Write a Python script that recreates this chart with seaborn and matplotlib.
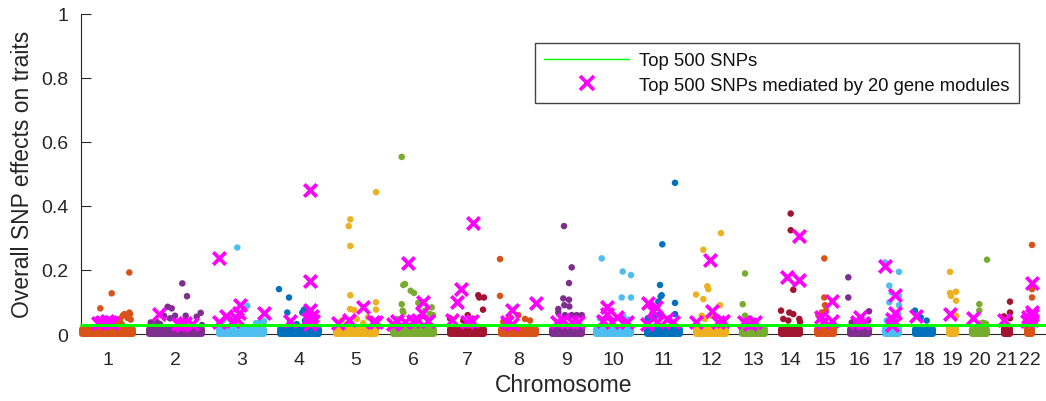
import matplotlib
matplotlib.use("Agg")
import matplotlib.pyplot as plt
import seaborn as sns
import pandas as pd
from matplotlib.lines import Line2D

# ---------------- data ----------------
chromosomes = [str(i) for i in range(1, 23)]
# genome index range of each chromosome (arbitrary SNP-index units)
chrom_start = [1, 68, 138, 199, 255, 312, 369, 420, 471, 515, 566, 615, 661, 700, 736, 769, 804, 834, 868, 891, 923, 946]
chrom_end = [52, 121, 183, 238, 295, 353, 403, 455, 501, 550, 599, 645, 684, 719, 753, 788, 818, 852, 875, 906, 929, 951]
# upper level of the dense bulk of SNP effects in each chromosome
band_top = [0.016, 0.016, 0.016, 0.016, 0.016, 0.016, 0.016, 0.016, 0.016, 0.016, 0.016,
            0.016, 0.015, 0.016, 0.016, 0.016, 0.018, 0.016, 0.020, 0.016, 0.020, 0.018]
threshold = 0.028  # effect of the top-500 SNP cutoff

# individual SNPs above the bulk
dot_chrom = (["1"] * 14 + ["2"] * 14 + ["3"] * 7 + ["4"] * 8 + ["5"] * 13 + ["6"] * 14 + ["7"] * 8 +
             ["8"] * 7 + ["9"] * 13 + ["10"] * 8 + ["11"] * 12 + ["12"] * 10 + ["13"] * 4 + ["14"] * 10 +
             ["15"] * 6 + ["16"] * 5 + ["17"] * 10 + ["18"] * 3 + ["19"] * 6 + ["20"] * 6 + ["21"] * 4 + ["22"] * 3)
dot_pos = [48.3, 30.7, 19.3, 15.7, 34, 36.3, 39, 41.7, 43.3, 48.3, 49, 46.7, 49.7, 40.7,
           101.3, 106, 86.7, 90.7, 83, 94, 104.7, 119.7, 115.7, 69.7, 79, 89, 75.7, 121,
           156.3, 166.3, 142.3, 149, 179, 183, 175,
           198, 208, 206.3, 221.3, 223, 224, 209, 215.7,
           269.3, 267.7, 269.3, 295, 269.3, 269, 273, 295, 295, 287, 275.7, 282.3, 260.7,
           320.7, 322.3, 324, 329.7, 333, 320.7, 321.7, 322.3, 337.3, 350.7, 349, 344, 352, 315.7,
           397.3, 398.3, 403, 402, 386.7, 382.3, 392.3, 369,
           419, 419, 428, 437.3, 444, 449, 422.3,
           483, 490.7, 488, 482.3, 488, 483.3, 488.3, 477.3, 477.3, 490.7, 495.7, 500.7, 484,
           520.7, 541.7, 550, 540.7, 550, 519, 542.3, 547.3,
           594, 581.3, 579, 580.7, 579.7, 594, 577.3, 566.7, 573.3, 594, 587.3, 579,
           640, 622.3, 626.3, 627.3, 615, 622.3, 639, 620.7, 630.7, 624,
           664, 661.7, 664, 669,
           709.7, 709.7, 712.3, 700, 708.3, 712.3, 718.3, 702.3, 707.3, 719,
           743.3, 743.3, 744, 745, 740.7, 737.3,
           767.3, 767.3, 788, 787.3, 770.7,
           818, 808.3, 810.7, 808.3, 818, 818, 817.3, 804, 812.3, 805.7,
           834, 839.7, 845.7,
           869, 869, 870, 875, 875, 875,
           906, 898.3, 898.3, 902.3, 899, 905,
           929, 929, 929, 923,
           951, 951, 951]
dot_val = [0.192, 0.127, 0.080, 0.044, 0.031, 0.038, 0.047, 0.057, 0.062, 0.067, 0.062, 0.050, 0.045, 0.031,
           0.158, 0.118, 0.085, 0.080, 0.057, 0.057, 0.057, 0.066, 0.054, 0.036, 0.031, 0.049, 0.038, 0.028,
           0.270, 0.088, 0.042, 0.047, 0.036, 0.040, 0.034,
           0.140, 0.114, 0.067, 0.067, 0.076, 0.042, 0.036, 0.031,
           0.358, 0.337, 0.275, 0.443, 0.121, 0.078, 0.075, 0.099, 0.076, 0.052, 0.047, 0.034, 0.042,
           0.553, 0.153, 0.156, 0.135, 0.128, 0.093, 0.073, 0.067, 0.097, 0.083, 0.062, 0.073, 0.059, 0.047,
           0.121, 0.114, 0.114, 0.076, 0.059, 0.042, 0.047, 0.049,
           0.234, 0.119, 0.055, 0.059, 0.047, 0.042, 0.038,
           0.337, 0.208, 0.159, 0.111, 0.107, 0.090, 0.086, 0.078, 0.067, 0.059, 0.059, 0.059, 0.059,
           0.236, 0.195, 0.184, 0.114, 0.114, 0.049, 0.057, 0.045,
           0.472, 0.280, 0.153, 0.121, 0.117, 0.097, 0.101, 0.049, 0.052, 0.062, 0.047, 0.062,
           0.315, 0.263, 0.149, 0.140, 0.123, 0.109, 0.090, 0.057, 0.057, 0.047,
           0.189, 0.093, 0.057, 0.038,
           0.376, 0.324, 0.138, 0.073, 0.067, 0.062, 0.047, 0.047, 0.042, 0.038,
           0.236, 0.114, 0.090, 0.073, 0.067, 0.059,
           0.177, 0.114, 0.071, 0.042, 0.036,
           0.194, 0.151, 0.130, 0.099, 0.119, 0.090, 0.062, 0.223, 0.047, 0.042,
           0.073, 0.052, 0.042,
           0.194, 0.128, 0.119, 0.132, 0.104, 0.057,
           0.232, 0.093, 0.073, 0.035, 0.033, 0.032,
           0.101, 0.067, 0.049, 0.055,
           0.278, 0.140, 0.114]

# top-500 SNPs mediated by the 20 gene modules
mark_pos = [20.7, 25.7, 29, 17.3, 30.7,
            77.7, 97.3, 104, 110.7, 100.7,
            138, 159.3, 158, 155.7, 144.7, 138, 183, 152.3,
            229, 229, 229, 230.7, 227.3, 232.3, 209, 229,
            282.3, 268.3, 257.3, 292, 295,
            327.3, 342.3, 340.7, 315.7, 324, 332.3, 347.3, 312.3, 337.3,
            391.7, 380, 376.3, 370.7, 390.7, 385.7,
            431.3, 455, 430.7, 425.7,
            482.3, 490.7, 497.3, 475.7,
            525.7, 525.7, 535.7, 545.7, 522.3, 530.7,
            567.3, 574.7, 572.3, 585.7, 575.7, 592.3, 566,
            629, 631.3, 615, 642.3, 637.3,
            663, 674, 669,
            718, 706.3, 718,
            750.7, 739.7, 750.7, 742.3,
            779, 775.7, 782.3,
            804, 814, 814, 810.7, 810.7,
            835,
            869,
            891.7,
            923,
            950.7, 950.7, 951, 947.3, 946, 951]
mark_val = [0.036, 0.042, 0.038, 0.034, 0.034,
            0.062, 0.031, 0.033, 0.031, 0.028,
            0.236, 0.090, 0.065, 0.047, 0.057, 0.038, 0.065, 0.042,
            0.450, 0.164, 0.076, 0.057, 0.047, 0.042, 0.042, 0.031,
            0.083, 0.045, 0.034, 0.038, 0.036,
            0.223, 0.101, 0.067, 0.042, 0.038, 0.042, 0.042, 0.031, 0.045,
            0.348, 0.142, 0.099, 0.045, 0.042, 0.036,
            0.076, 0.097, 0.031, 0.036,
            0.045, 0.038, 0.038, 0.036,
            0.083, 0.062, 0.052, 0.038, 0.042, 0.038,
            0.097, 0.083, 0.073, 0.047, 0.036, 0.038, 0.031,
            0.232, 0.073, 0.038, 0.042, 0.038,
            0.038, 0.036, 0.031,
            0.306, 0.177, 0.169,
            0.104, 0.052, 0.042, 0.036,
            0.052, 0.038, 0.034,
            0.213, 0.121, 0.067, 0.047, 0.028,
            0.055,
            0.064,
            0.049,
            0.045,
            0.159, 0.070, 0.059, 0.052, 0.042, 0.045]

y_ticks = [0, 0.2, 0.4, 0.6, 0.8, 1]
y_tick_labels = ["0", "0.2", "0.4", "0.6", "0.8", "1"]
legend_labels = ["Top 500 SNPs", "Top 500 SNPs mediated by 20 gene modules"]

# ---------------- style ----------------
sns.set_theme(style="white")
plt.rcParams["font.family"] = ["Liberation Sans", "DejaVu Sans"]
axis_col = "#262626"
cycle = ["#D95319", "#7E2F8E", "#4DBEEE", "#0072BD", "#EDB120", "#77AC30", "#A2142F"]
chrom_colors = {c: cycle[i % len(cycle)] for i, c in enumerate(chromosomes)}

fig = plt.figure(figsize=(10.46, 4.02), dpi=100)
ax = fig.add_axes([81 / 1046, 1 - 335 / 402, 1 - 81 / 1046, (335 - 14.7) / 402])

# dense bulk of SNPs per chromosome (rounded like packed markers)
widths = [e - s for s, e in zip(chrom_start, chrom_end)]
bars = ax.bar(chrom_start, band_top, width=widths, bottom=0, align="edge",
              color=[chrom_colors[c] for c in chromosomes],
              edgecolor=[chrom_colors[c] for c in chromosomes],
              linewidth=4.3, zorder=3, clip_on=False)
for b in bars:
    b.set_joinstyle("round")

dots = pd.DataFrame({"chrom": dot_chrom, "pos": dot_pos, "val": dot_val})
sns.scatterplot(data=dots, x="pos", y="val", hue="chrom", palette=chrom_colors,
                s=22, linewidth=0, legend=False, ax=ax, zorder=4, clip_on=False)

marks = pd.DataFrame({"pos": mark_pos, "val": mark_val})
sns.scatterplot(data=marks, x="pos", y="val", marker="x", color="#FF00FF",
                s=80, linewidth=2.7, legend=False, ax=ax, zorder=5, clip_on=False)

ax.axhline(threshold, color="#00FF00", lw=2.1, zorder=6, clip_on=False)

# axes
ax.set_xlim(0, 965)
ax.set_ylim(0, 1)
mids = [(s + e) / 2 for s, e in zip(chrom_start, chrom_end)]
ax.set_xticks(mids)
ax.set_xticklabels(chromosomes)
ax.set_yticks(y_ticks)
ax.set_yticklabels(y_tick_labels)
sns.despine(ax=ax, top=True, right=True)
for sp in ["left", "bottom"]:
    ax.spines[sp].set_color(axis_col)
    ax.spines[sp].set_linewidth(0.8)
    ax.spines[sp].set_zorder(1)
ax.tick_params(axis="y", direction="in", length=7, width=0.8, color=axis_col,
               labelcolor=axis_col, labelsize=14, pad=9, left=True)
ax.tick_params(axis="x", direction="in", length=0, labelcolor=axis_col,
               labelsize=14, pad=12.5)
ax.set_xlabel("Chromosome", fontsize=16.5, color=axis_col, labelpad=3.5)
ax.set_ylabel("Overall SNP effects on traits", fontsize=16.5, color=axis_col, labelpad=5)

handles = [Line2D([], [], color="#00FF00", lw=1.0),
           Line2D([], [], marker="x", ls="none", color="#FF00FF", ms=9.5, mew=2.6)]
leg = ax.legend(handles, legend_labels, loc="upper right",
                bbox_to_anchor=(1019 / 1046, 1 - 44 / 402), bbox_transform=fig.transFigure,
                frameon=True, fancybox=False, framealpha=1, edgecolor="#444444",
                fontsize=13.3, handlelength=4.6, handletextpad=0.55, borderpad=0.5,
                labelspacing=0.4, borderaxespad=0)
leg.get_frame().set_linewidth(1.0)
for t in leg.get_texts():
    t.set_color("#111111")

fig.savefig("out.png", dpi=100)
